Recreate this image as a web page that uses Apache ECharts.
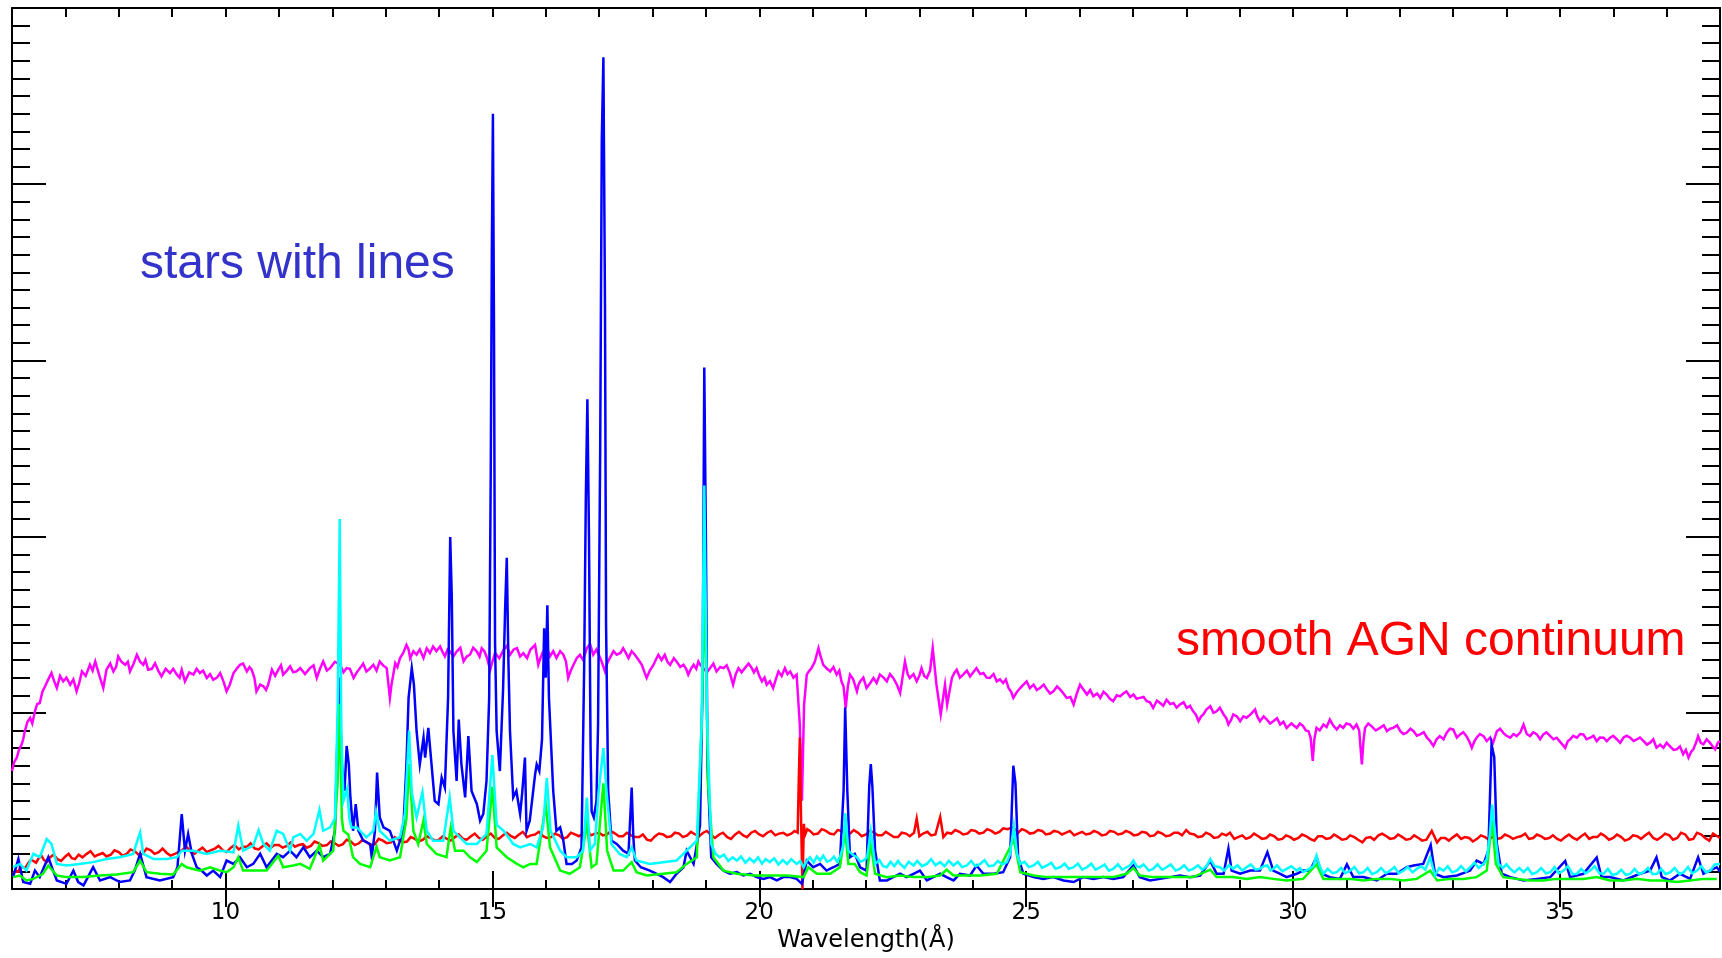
<!DOCTYPE html>
<html>
<head>
<meta charset="utf-8">
<title>X-ray spectra: stars vs AGN</title>
<script src="https://cdn.jsdelivr.net/npm/echarts@6/dist/echarts.min.js"></script>
<style>
  html, body { margin: 0; padding: 0; background: #fff; }
  #chart { width: 1722px; height: 958px; }
</style>
</head>
<body>
<div id="chart"></div>
<script>
// Wavelength axis (Angstrom) and labelled major ticks
const xRange = [6, 38];
const xMajorTicks = [10, 15, 20, 25, 30, 35];
const yRange = [0, 50];

// AGN spectrum (magenta): [wavelength, flux]
const agnSpectrum = [
  [6.00,6.70],[6.04,7.2],[6.09,7.46],[6.13,7.9],[6.18,8.21],[6.21,8.5],[6.24,8.96],[6.29,9.5],[6.34,9.72],[6.38,9.4],
  [6.43,10.09],[6.47,10.5],[6.52,10.56],[6.57,11.2],[6.62,11.51],[6.68,11.9],[6.74,12.26],[6.79,11.8],[6.84,11.41],
  [6.9,12.1],[6.96,11.79],[7.02,12.0],[7.09,11.60],[7.15,11.9],[7.21,11.22],[7.26,11.7],[7.31,12.35],[7.38,12.1],
  [7.46,12.73],[7.51,12.4],[7.56,12.92],[7.6,12.5],[7.65,11.98],[7.71,11.41],[7.77,12.45],[7.84,12.8],[7.90,12.35],
  [7.95,12.6],[7.99,13.20],[8.05,12.9],[8.12,12.73],[8.17,12.9],[8.21,12.35],[8.28,12.8],[8.34,13.30],[8.4,12.9],
  [8.46,12.73],[8.5,13.0],[8.55,12.45],[8.62,12.5],[8.68,12.82],[8.74,12.4],[8.80,12.07],[8.88,12.5],[8.96,12.26],
  [9.02,12.5],[9.09,12.17],[9.14,12.0],[9.18,12.45],[9.24,11.79],[9.32,12.3],[9.40,12.17],[9.46,12.5],[9.52,12.26],
  [9.58,12.4],[9.65,11.98],[9.71,12.2],[9.77,11.88],[9.84,12.0],[9.90,12.26],[9.96,11.8],[10.02,11.22],[10.08,11.6],
  [10.15,12.26],[10.21,12.5],[10.27,12.73],[10.33,12.8],[10.40,12.35],[10.45,12.6],[10.49,12.45],[10.54,12.0],
  [10.58,11.22],[10.65,11.6],[10.71,11.51],[10.76,11.3],[10.80,11.60],[10.87,12.45],[10.93,12.1],[10.99,12.45],
  [11.04,12.7],[11.08,12.17],[11.15,12.4],[11.21,12.64],[11.27,12.3],[11.33,12.35],[11.4,12.54],[11.49,12.2],
  [11.58,12.54],[11.65,12.7],[11.71,11.98],[11.77,12.5],[11.83,12.92],[11.9,12.4],[11.96,12.54],[12.05,12.9],
  [12.15,12.73],[12.21,12.3],[12.27,12.54],[12.33,12.5],[12.40,11.98],[12.46,12.3],[12.52,12.54],[12.58,12.8],
  [12.64,12.35],[12.7,12.5],[12.77,12.73],[12.83,12.4],[12.89,12.92],[12.95,12.7],[13.02,12.54],[13.08,10.85],
  [13.11,11.60],[13.18,12.82],[13.22,12.6],[13.27,13.11],[13.33,13.4],[13.39,13.86],[13.43,13.6],[13.46,13.11],
  [13.52,13.5],[13.58,13.30],[13.64,13.6],[13.71,13.11],[13.77,13.67],[13.83,13.4],[13.89,13.77],[13.95,13.5],
  [14.02,13.77],[14.06,13.5],[14.11,13.20],[14.16,13.6],[14.21,13.48],[14.27,13.2],[14.33,13.48],[14.4,13.7],
  [14.46,12.92],[14.52,13.2],[14.58,13.30],[14.64,13.7],[14.71,13.48],[14.76,13.2],[14.80,13.67],[14.85,13.5],
  [14.89,13.20],[14.96,12.45],[15.0,12.9],[15.05,13.39],[15.13,13.1],[15.21,13.58],[15.27,13.8],[15.33,13.30],
  [15.4,13.6],[15.46,13.67],[15.52,13.2],[15.58,13.39],[15.65,13.1],[15.71,13.58],[15.80,13.86],[15.86,12.73],
  [15.9,13.1],[15.95,13.48],[16.02,13.7],[16.08,13.20],[16.14,13.5],[16.20,13.11],[16.27,13.5],[16.33,13.30],
  [16.38,12.9],[16.42,11.98],[16.47,12.4],[16.52,12.73],[16.58,13.1],[16.64,13.30],[16.7,13.0],[16.77,13.67],
  [16.83,13.9],[16.89,13.30],[16.95,13.6],[17.02,13.11],[17.06,12.8],[17.11,12.35],[17.15,12.8],[17.20,13.11],
  [17.27,13.5],[17.33,13.30],[17.4,13.4],[17.45,13.67],[17.5,13.4],[17.55,13.11],[17.61,13.5],[17.67,13.30],
  [17.74,13.0],[17.80,12.73],[17.85,12.3],[17.89,11.98],[17.95,12.4],[18.02,12.73],[18.06,13.0],[18.11,13.30],
  [18.17,13.0],[18.23,13.30],[18.28,12.9],[18.33,12.73],[18.4,13.1],[18.45,12.92],[18.52,12.6],[18.58,12.73],
  [18.63,12.5],[18.67,12.17],[18.72,12.5],[18.77,12.73],[18.82,12.5],[18.86,12.92],[18.9,12.7],[18.95,12.54],
  [19.02,12.3],[19.08,12.54],[19.14,12.8],[19.20,12.35],[19.27,12.6],[19.33,12.54],[19.39,12.7],[19.45,12.26],
  [19.51,11.60],[19.56,12.2],[19.61,12.54],[19.67,12.3],[19.73,12.54],[19.8,12.8],[19.86,12.54],[19.9,12.3],
  [19.95,12.54],[20.0,12.1],[20.05,11.79],[20.1,12.0],[20.14,11.60],[20.2,11.8],[20.26,11.41],[20.31,11.9],
  [20.36,12.35],[20.42,12.1],[20.48,12.54],[20.53,12.2],[20.58,12.35],[20.64,12.0],[20.70,12.17],[20.76,9.34],
  [20.80,5.01],[20.84,10.47],[20.89,12.17],[20.94,12.4],[20.98,12.54],[21.04,12.9],[21.11,13.67],[21.15,13.2],
  [21.20,12.73],[21.27,12.5],[21.33,12.35],[21.39,12.6],[21.45,12.17],[21.5,12.4],[21.54,11.79],[21.58,11.5],
  [21.62,10.28],[21.66,11.5],[21.70,12.17],[21.76,11.9],[21.83,11.22],[21.86,11.6],[21.89,11.79],[21.95,12.0],
  [22.01,11.41],[22.08,11.7],[22.14,11.98],[22.2,11.7],[22.26,12.17],[22.33,12.0],[22.39,11.79],[22.45,12.2],
  [22.51,11.98],[22.58,11.6],[22.64,11.13],[22.73,12.92],[22.78,12.2],[22.82,11.98],[22.89,12.2],[22.95,11.79],
  [23.0,12.1],[23.04,12.54],[23.09,12.1],[23.14,11.98],[23.2,12.4],[23.25,13.67],[23.32,11.60],[23.40,9.91],
  [23.48,11.60],[23.52,10.47],[23.61,11.98],[23.66,12.3],[23.70,12.45],[23.76,12.0],[23.82,12.17],[23.89,12.4],
  [23.95,12.07],[24.01,12.3],[24.07,12.54],[24.14,12.2],[24.20,12.26],[24.26,12.0],[24.32,11.98],[24.39,12.2],
  [24.45,11.79],[24.51,11.9],[24.57,11.69],[24.62,11.9],[24.67,11.41],[24.72,11.2],[24.76,10.85],[24.83,11.2],
  [24.89,11.41],[24.95,11.6],[25.01,11.79],[25.07,11.4],[25.14,11.60],[25.2,11.3],[25.26,11.41],[25.33,11.6],
  [25.39,11.32],[25.45,11.1],[25.51,11.22],[25.58,11.5],[25.64,11.32],[25.7,11.1],[25.76,10.85],[25.83,10.9],
  [25.89,10.47],[25.95,11.1],[26.01,11.60],[26.08,11.3],[26.14,11.04],[26.2,11.3],[26.26,10.94],[26.33,11.1],
  [26.39,10.85],[26.45,11.2],[26.51,11.04],[26.57,10.8],[26.63,10.66],[26.7,11.0],[26.76,10.94],[26.82,11.1],
  [26.88,11.22],[26.95,10.9],[27.01,11.04],[27.07,10.8],[27.13,10.85],[27.2,10.9],[27.26,10.66],[27.32,10.6],
  [27.38,10.28],[27.45,10.7],[27.51,10.56],[27.57,10.4],[27.63,10.75],[27.7,10.5],[27.76,10.56],[27.82,10.3],
  [27.88,10.47],[27.95,10.6],[28.01,10.28],[28.07,10.4],[28.13,10.09],[28.18,9.9],[28.23,9.53],[28.28,9.8],
  [28.32,9.91],[28.38,10.2],[28.45,10.38],[28.51,10.0],[28.57,10.09],[28.63,10.3],[28.70,9.91],[28.75,9.7],
  [28.79,9.34],[28.84,9.6],[28.88,9.91],[28.95,9.8],[29.01,9.53],[29.07,9.8],[29.13,9.72],[29.2,9.9],
  [29.29,10.19],[29.33,9.8],[29.38,9.53],[29.45,9.8],[29.51,9.62],[29.57,9.4],[29.63,9.53],[29.7,9.7],
  [29.76,9.34],[29.82,9.5],[29.88,9.15],[29.97,9.4],[30.07,9.15],[30.13,9.4],[30.19,9.25],[30.24,9.0],
  [30.29,8.96],[30.33,8.6],[30.37,7.27],[30.4,8.5],[30.44,9.15],[30.5,9.0],[30.57,9.34],[30.63,9.2],
  [30.69,9.62],[30.75,9.3],[30.82,9.06],[30.88,9.3],[30.94,9.15],[31.0,9.4],[31.07,9.34],[31.13,9.1],
  [31.19,9.34],[31.24,9.0],[31.29,7.08],[31.32,8.4],[31.35,9.15],[31.41,9.4],[31.47,9.25],[31.55,9.0],
  [31.63,9.15],[31.7,9.3],[31.76,8.96],[31.82,9.1],[31.88,9.15],[31.95,9.3],[32.01,8.96],[32.07,8.8],
  [32.13,8.87],[32.2,9.1],[32.26,8.96],[32.32,8.7],[32.38,8.78],[32.45,8.9],[32.51,8.59],[32.57,8.4],
  [32.63,8.12],[32.69,8.5],[32.75,8.68],[32.82,8.5],[32.88,8.87],[32.94,9.1],[33.00,9.06],[33.07,8.6],
  [33.13,8.78],[33.19,8.9],[33.25,8.68],[33.3,8.4],[33.35,8.02],[33.4,8.4],[33.44,8.59],[33.5,8.8],
  [33.57,8.68],[33.63,8.4],[33.69,8.59],[33.75,8.31],[33.82,8.96],[33.88,9.1],[33.94,8.87],[34.0,8.7],
  [34.07,8.59],[34.13,8.8],[34.19,8.68],[34.26,8.9],[34.32,9.34],[34.38,8.8],[34.44,8.68],[34.5,8.9],
  [34.57,8.78],[34.63,8.5],[34.69,8.78],[34.75,8.9],[34.82,8.68],[34.88,8.5],[34.94,8.59],[35.02,8.3],
  [35.10,8.02],[35.15,8.4],[35.19,8.49],[35.25,8.7],[35.32,8.59],[35.38,8.8],[35.44,8.78],[35.5,8.5],
  [35.57,8.59],[35.63,8.7],[35.69,8.40],[35.75,8.6],[35.82,8.59],[35.88,8.4],[35.94,8.59],[36.0,8.7],
  [36.07,8.49],[36.13,8.3],[36.19,8.59],[36.25,8.7],[36.32,8.59],[36.38,8.4],[36.44,8.49],[36.5,8.6],
  [36.57,8.40],[36.63,8.2],[36.69,8.31],[36.75,8.5],[36.81,8.02],[36.88,8.2],[36.94,8.02],[37.0,8.3],
  [37.06,8.12],[37.13,7.9],[37.19,7.93],[37.25,8.1],[37.31,7.65],[37.36,7.9],[37.41,7.46],[37.46,7.8],
  [37.50,7.93],[37.55,8.3],[37.59,8.68],[37.64,8.3],[37.69,8.21],[37.75,8.5],[37.81,8.31],[37.86,8.1],
  [37.91,7.93],[37.96,8.3],[38.00,8.40]
];

// Smooth AGN continuum (red)
const agnContinuum = [
  [6.02,0.87],[6.07,1.05],[6.12,1.00],[6.16,1.3],[6.20,1.25],[6.25,1.2],[6.30,1.45],[6.35,1.65],[6.40,1.60],[6.45,1.5],
  [6.50,1.75],[6.55,1.9],[6.60,1.65],[6.66,1.55],[6.71,1.80],[6.78,1.95],[6.85,1.70],[6.92,1.6],[7.00,1.85],[7.06,2.0],
  [7.12,1.75],[7.18,1.7],[7.25,1.95],[7.32,1.8],[7.40,2.00],[7.47,2.15],[7.55,1.85],[7.62,1.95],[7.70,2.05],[7.77,1.85],
  [7.85,1.95],[7.92,2.2],[8.00,2.10],[8.07,1.9],[8.15,2.00],[8.22,2.25],[8.30,2.15],[8.37,1.95],[8.45,2.00],[8.52,2.3],
  [8.60,2.20],[8.67,2.0],[8.75,2.10],[8.82,2.3],[8.90,2.05],[8.97,1.9],[9.05,2.00],[9.12,2.1],[9.20,2.25],[9.27,2.4],
  [9.35,2.10],[9.42,2.0],[9.50,2.20],[9.57,2.35],[9.65,2.10],[9.72,2.2],[9.80,2.30],[9.87,2.45],[9.95,2.20],[10.02,2.1],
  [10.10,2.35],[10.17,2.5],[10.25,2.25],[10.32,2.4],[10.40,2.40],[10.47,2.6],[10.55,2.30],[10.62,2.25],[10.70,2.45],
  [10.77,2.6],[10.85,2.35],[10.92,2.5],[11.00,2.50],[11.07,2.35],[11.15,2.45],[11.22,2.65],[11.30,2.40],[11.37,2.5],
  [11.45,2.55],[11.52,2.35],[11.60,2.45],[11.67,2.7],[11.75,2.60],[11.82,2.45],[11.90,2.50],[11.97,2.7],[12.05,2.60],
  [12.12,2.45],[12.20,2.55],[12.27,2.8],[12.35,2.70],[12.42,2.5],[12.50,2.60],[12.57,2.8],[12.65,2.65],[12.72,2.5],
  [12.80,2.55],[12.87,2.85],[12.95,2.75],[13.02,2.6],[13.10,2.65],[13.17,2.95],[13.25,2.80],[13.32,2.65],[13.40,2.70],
  [13.47,2.95],[13.55,2.85],[13.62,2.7],[13.70,2.80],[13.77,3.0],[13.85,2.90],[13.92,2.75],[14.00,2.80],[14.07,3.0],
  [14.15,2.85],[14.22,2.75],[14.30,2.95],[14.37,3.1],[14.45,2.85],[14.52,2.8],[14.60,3.00],[14.67,3.15],[14.75,2.90],
  [14.82,2.8],[14.90,3.00],[14.97,3.15],[15.05,2.90],[15.12,2.85],[15.20,3.05],[15.27,3.2],[15.35,3.00],[15.42,2.9],
  [15.50,3.10],[15.57,3.25],[15.65,2.95],[15.72,3.05],[15.80,3.10],[15.87,3.25],[15.95,3.00],[16.02,2.9],[16.10,2.95],
  [16.17,3.15],[16.25,3.05],[16.32,2.85],[16.40,2.95],[16.47,3.2],[16.55,3.10],[16.62,3.0],[16.70,3.15],[16.77,3.3],
  [16.85,3.05],[16.92,3.15],[17.00,3.20],[17.07,3.05],[17.15,3.10],[17.22,3.3],[17.30,3.15],[17.37,3.0],[17.45,3.00],
  [17.52,3.2],[17.60,3.05],[17.67,2.95],[17.75,2.95],[17.82,3.1],[17.90,2.80],[17.97,2.75],[18.05,3.00],[18.12,3.15],
  [18.20,3.10],[18.27,2.95],[18.35,3.00],[18.42,3.2],[18.50,3.15],[18.57,2.95],[18.65,3.05],[18.72,3.25],[18.80,3.10],
  [18.87,3.0],[18.95,3.20],[19.02,3.3],[19.10,3.05],[19.17,2.9],[19.25,3.10],[19.32,3.2],[19.40,2.95],[19.47,2.85],
  [19.55,3.10],[19.62,3.25],[19.70,3.05],[19.77,2.95],[19.85,3.20],[19.92,3.3],[20.00,3.10],[20.07,3.0],[20.15,3.20],
  [20.22,3.3],[20.30,3.05],[20.37,3.15],[20.45,3.20],[20.52,3.05],[20.60,3.15],[20.66,3.3],[20.72,3.20],[20.74,6.10],
  [20.76,8.60],[20.785,3.70],[20.81,0.00],[20.835,3.70],[20.86,3.10],[20.90,3.4],[20.95,3.30],[21.02,3.1],[21.10,3.15],
  [21.17,3.4],[21.25,3.30],[21.32,3.15],[21.40,3.10],[21.47,3.35],[21.55,3.30],[21.62,3.1],[21.70,3.15],[21.77,3.35],
  [21.85,3.20],[21.92,3.0],[22.00,3.10],[22.07,3.3],[22.15,3.20],[22.22,3.05],[22.30,3.05],[22.37,3.25],[22.45,3.10],
  [22.52,2.95],[22.60,2.95],[22.67,3.2],[22.75,3.15],[22.82,3.0],[22.90,3.20],[22.95,4.00],[23.00,3.00],[23.07,3.15],
  [23.15,3.25],[23.22,3.05],[23.30,3.10],[23.39,4.10],[23.45,2.95],[23.52,3.2],[23.60,3.15],[23.67,3.35],[23.75,3.25],
  [23.82,3.1],[23.90,3.15],[23.97,3.35],[24.05,3.30],[24.12,3.15],[24.20,3.20],[24.27,3.4],[24.35,3.30],[24.42,3.15],
  [24.50,3.25],[24.57,3.45],[24.65,3.40],[24.75,3.50],[24.85,3.20],[24.92,3.4],[25.00,3.30],[25.07,3.15],[25.15,3.20],
  [25.22,3.35],[25.30,3.30],[25.37,3.1],[25.45,3.15],[25.52,3.3],[25.60,3.25],[25.67,3.1],[25.75,3.20],[25.82,3.3],
  [25.90,3.05],[25.97,3.15],[26.05,3.25],[26.12,3.1],[26.20,3.15],[26.27,3.3],[26.35,3.20],[26.42,3.05],[26.50,3.10],
  [26.57,3.3],[26.65,3.25],[26.72,3.1],[26.80,3.15],[26.87,3.3],[26.95,3.20],[27.02,3.05],[27.10,3.10],[27.17,3.25],
  [27.25,3.20],[27.32,3.0],[27.40,3.05],[27.47,3.25],[27.55,3.15],[27.62,3.0],[27.70,3.05],[27.77,3.2],[27.85,3.20],
  [27.92,3.05],[28.00,3.35],[28.07,3.15],[28.15,3.10],[28.22,2.95],[28.30,3.00],[28.37,3.2],[28.45,3.10],[28.52,2.9],
  [28.60,2.95],[28.67,3.15],[28.75,3.05],[28.82,3.2],[28.90,2.85],[28.97,2.95],[29.05,3.05],[29.12,2.85],[29.20,2.95],
  [29.27,3.15],[29.35,3.00],[29.42,2.85],[29.50,2.90],[29.57,3.1],[29.65,3.00],[29.72,2.8],[29.80,2.85],[29.87,3.05],
  [29.95,2.95],[30.02,2.8],[30.10,2.90],[30.17,3.1],[30.25,3.00],[30.32,2.85],[30.40,2.75],[30.47,3.0],[30.55,3.00],
  [30.62,2.85],[30.70,2.90],[30.77,3.1],[30.85,2.95],[30.92,2.8],[31.00,2.85],[31.07,3.05],[31.15,2.95],[31.22,2.8],
  [31.30,2.65],[31.37,2.9],[31.45,2.95],[31.52,2.8],[31.60,3.05],[31.67,3.15],[31.75,3.00],[31.82,2.85],[31.90,2.90],
  [31.97,3.1],[32.05,2.95],[32.12,2.8],[32.20,2.85],[32.27,3.05],[32.35,2.90],[32.42,2.75],[32.50,2.80],[32.60,3.30],
  [32.70,2.65],[32.77,2.9],[32.85,2.90],[32.92,2.75],[33.00,2.95],[33.07,3.1],[33.15,2.85],[33.22,2.95],[33.30,2.90],
  [33.37,2.7],[33.45,2.85],[33.52,3.05],[33.60,2.95],[33.67,2.8],[33.75,3.00],[33.82,2.85],[33.90,2.90],[33.97,3.1],
  [34.05,3.00],[34.12,2.85],[34.20,2.95],[34.27,3.0],[34.35,3.15],[34.42,2.85],[34.50,2.90],[34.57,3.1],[34.65,3.00],
  [34.72,2.85],[34.80,2.90],[34.87,3.05],[34.95,2.85],[35.02,2.75],[35.10,2.95],[35.17,3.1],[35.25,2.90],[35.32,2.8],
  [35.40,3.00],[35.47,3.15],[35.55,2.85],[35.62,2.95],[35.70,2.95],[35.77,3.15],[35.85,3.00],[35.92,2.8],[36.00,2.90],
  [36.07,3.1],[36.15,2.95],[36.22,2.75],[36.30,2.85],[36.37,3.05],[36.45,3.00],[36.52,2.85],[36.60,3.05],[36.67,3.2],
  [36.75,2.90],[36.82,2.8],[36.90,2.95],[36.97,3.15],[37.05,3.05],[37.12,2.8],[37.20,2.90],[37.27,3.2],[37.35,3.10],
  [37.42,2.8],[37.50,2.85],[37.57,3.2],[37.65,3.10],[37.72,2.9],[37.80,2.75],[37.87,3.15],[37.95,3.00],[38.00,2.9]
];

// Stellar coronal spectrum with strong emission lines (blue)
const starLines = [
  [6.02,0.68],[6.12,1.71],[6.21,0.40],[6.34,0.30],[6.43,1.05],[6.52,0.68],[6.68,1.81],[6.77,1.05],[6.84,0.49],
  [7.02,0.30],[7.15,1.05],[7.24,0.40],[7.34,0.21],[7.52,1.24],[7.65,0.49],[7.84,0.68],[8.02,0.40],[8.21,0.49],
  [8.30,1.05],[8.40,2.00],[8.52,0.68],[8.77,0.49],[9.02,0.68],[9.10,1.24],[9.18,4.26],[9.24,2.18],[9.30,3.13],
  [9.37,2.00],[9.46,1.24],[9.55,1.05],[9.65,0.77],[9.77,1.05],[9.90,0.68],[10.02,1.62],[10.15,1.43],[10.27,1.81],
  [10.40,1.24],[10.52,1.43],[10.65,2.00],[10.77,1.24],[10.96,2.00],[11.08,1.81],[11.21,2.18],[11.33,1.81],[11.46,2.37],
  [11.58,1.81],[11.71,2.18],[11.83,1.81],[11.96,2.00],[12.05,3.31],[12.10,8.96],[12.13,12.00],[12.18,7.08],[12.23,5.57],
  [12.27,8.12],[12.31,7.08],[12.34,5.20],[12.39,3.31],[12.44,4.82],[12.49,3.31],[12.58,2.75],[12.71,2.56],[12.74,1.81],
  [12.80,3.31],[12.84,6.61],[12.89,4.07],[12.96,3.50],[13.08,3.31],[13.21,2.18],[13.33,3.31],[13.39,7.08],[13.43,10.85],
  [13.49,12.54],[13.53,11.60],[13.58,8.96],[13.64,7.08],[13.71,8.59],[13.74,7.46],[13.80,9.15],[13.86,7.08],[13.92,5.01],
  [13.99,4.82],[14.05,6.33],[14.11,5.76],[14.17,10.85],[14.21,19.98],[14.24,16.50],[14.27,8.96],[14.33,6.14],[14.37,9.62],
  [14.42,7.08],[14.49,5.20],[14.55,8.68],[14.61,5.57],[14.71,4.82],[14.77,3.88],[14.83,4.26],[14.89,6.14],[14.94,10.85],
  [14.97,24.00],[14.99,36.00],[15.01,44.00],[15.03,32.00],[15.05,14.00],[15.08,8.96],[15.14,6.70],[15.20,11.30],
  [15.24,16.00],[15.27,18.80],[15.30,13.00],[15.33,8.96],[15.39,5.20],[15.45,5.57],[15.52,4.26],[15.56,5.50],[15.61,7.46],
  [15.64,3.31],[15.70,3.88],[15.80,6.50],[15.83,7.08],[15.88,6.70],[15.93,8.50],[15.97,14.80],[16.00,12.00],[16.03,16.10],
  [16.06,10.85],[16.14,5.57],[16.20,3.31],[16.27,3.50],[16.33,2.75],[16.39,1.43],[16.49,1.43],[16.58,1.62],[16.67,2.37],
  [16.72,12.70],[16.75,22.00],[16.78,27.80],[16.81,20.00],[16.84,8.00],[16.86,4.40],[16.90,4.07],[16.95,5.00],[16.98,9.34],
  [17.02,25.00],[17.05,42.50],[17.08,47.20],[17.11,33.00],[17.13,15.00],[17.17,5.57],[17.23,2.75],[17.33,2.56],[17.45,2.18],
  [17.55,2.00],[17.61,5.76],[17.64,3.00],[17.67,1.62],[17.78,1.24],[17.95,1.05],[18.08,0.87],[18.20,0.68],[18.33,0.40],
  [18.45,0.87],[18.58,1.24],[18.64,2.18],[18.77,1.43],[18.89,3.60],[18.94,12.00],[18.97,29.60],[19.00,20.00],[19.03,7.00],
  [19.10,1.81],[19.20,1.43],[19.33,1.05],[19.45,0.87],[19.58,0.96],[19.70,0.77],[19.83,0.87],[19.95,0.68],[20.08,0.58],
  [20.20,0.68],[20.33,0.49],[20.45,0.68],[20.58,0.68],[20.70,0.58],[20.80,0.30],[20.89,1.62],[21.01,1.24],[21.14,1.43],
  [21.26,1.05],[21.39,1.24],[21.51,1.43],[21.58,5.57],[21.61,10.30],[21.65,5.57],[21.70,1.81],[21.79,2.00],[21.89,1.24],
  [22.01,1.05],[22.06,5.80],[22.09,7.10],[22.12,5.80],[22.17,2.20],[22.26,0.49],[22.39,0.49],[22.51,0.68],[22.64,0.87],
  [22.76,0.68],[22.89,0.87],[23.01,1.05],[23.14,0.49],[23.26,0.68],[23.39,0.87],[23.51,0.68],[23.64,0.49],[23.76,0.87],
  [23.95,0.77],[24.07,1.34],[24.20,0.87],[24.39,0.87],[24.57,0.96],[24.70,1.81],[24.76,7.00],[24.80,6.00],[24.85,1.81],
  [24.95,0.87],[25.14,0.68],[25.32,0.58],[25.51,0.68],[25.70,0.49],[25.89,0.40],[26.07,0.68],[26.26,0.58],[26.45,0.68],
  [26.63,0.58],[26.82,0.68],[27.01,1.34],[27.13,0.68],[27.32,0.49],[27.51,0.58],[27.70,0.68],[27.88,0.77],[28.07,0.68],
  [28.26,0.77],[28.45,1.60],[28.57,0.87],[28.70,0.87],[28.79,2.30],[28.85,1.05],[29.01,0.87],[29.20,1.05],[29.38,1.05],
  [29.52,2.10],[29.63,1.05],[29.76,0.87],[29.88,0.68],[30.07,0.87],[30.19,1.05],[30.32,1.05],[30.44,1.81],[30.54,0.87],
  [30.69,0.68],[30.88,0.58],[31.01,1.40],[31.13,0.68],[31.32,0.68],[31.57,0.49],[31.76,0.87],[31.94,0.87],[32.13,1.24],
  [32.26,1.34],[32.44,1.43],[32.58,2.50],[32.66,0.87],[32.82,0.68],[33.07,0.77],[33.32,1.05],[33.44,1.62],[33.57,1.43],
  [33.66,2.18],[33.72,8.20],[33.77,7.50],[33.82,2.56],[33.91,0.87],[34.07,0.68],[34.32,0.49],[34.57,0.58],[34.82,0.68],
  [35.10,1.60],[35.19,0.68],[35.44,0.87],[35.69,1.80],[35.78,0.68],[35.94,0.68],[36.19,0.49],[36.50,0.87],[36.69,1.05],
  [36.81,1.80],[36.91,0.68],[37.06,0.49],[37.25,0.87],[37.44,0.58],[37.59,1.80],[37.69,0.87],[37.81,1.05],[37.94,1.24],
  [38.00,1.00]
];

// Second stellar spectrum (cyan)
const starCyan = [
  [6.02,1.24],[6.15,1.43],[6.27,1.05],[6.40,2.00],[6.52,1.81],[6.65,2.84],[6.74,2.56],[6.84,1.43],[7.02,1.34],
  [7.27,1.43],[7.52,1.53],[7.77,1.71],[8.02,1.81],[8.27,2.00],[8.40,3.22],[8.46,2.00],[8.65,1.71],[8.90,1.71],
  [9.09,1.81],[9.18,2.18],[9.40,2.18],[9.65,2.00],[9.90,2.18],[10.15,2.09],[10.24,3.60],[10.33,2.18],[10.52,2.47],
  [10.62,3.35],[10.71,2.56],[10.83,2.18],[10.96,3.31],[11.08,3.13],[11.21,2.18],[11.27,2.94],[11.40,3.13],[11.52,2.75],
  [11.65,3.13],[11.76,4.50],[11.83,3.31],[11.96,3.50],[12.05,4.00],[12.10,10.00],[12.14,21.00],[12.17,9.00],[12.21,5.00],
  [12.28,5.70],[12.32,4.00],[12.36,3.50],[12.46,3.50],[12.64,2.94],[12.77,3.31],[12.82,4.40],[12.89,3.31],[13.08,2.75],
  [13.27,2.94],[13.36,4.26],[13.44,9.00],[13.49,5.50],[13.58,4.07],[13.69,5.50],[13.77,3.31],[13.89,2.75],[14.08,2.75],
  [14.20,5.20],[14.27,3.31],[14.39,2.94],[14.52,2.56],[14.71,2.56],[14.89,3.13],[15.00,7.60],[15.08,3.65],[15.21,3.31],
  [15.30,2.94],[15.39,2.56],[15.52,2.37],[15.71,2.56],[15.83,2.37],[15.95,3.50],[16.02,6.30],[16.09,3.31],[16.27,2.18],
  [16.39,1.81],[16.58,1.81],[16.70,2.18],[16.77,5.20],[16.83,2.20],[16.92,2.56],[16.99,5.50],[17.08,8.00],[17.14,5.50],
  [17.23,2.56],[17.39,1.98],[17.52,1.81],[17.61,2.37],[17.70,1.62],[17.95,1.43],[18.20,1.53],[18.45,1.62],[18.64,2.18],
  [18.83,2.75],[18.92,9.30],[18.97,22.90],[19.02,10.00],
  [19.10,2.56],[19.18,2.0],[19.26,1.81],[19.34,1.95],[19.42,1.6],[19.5,1.8],[19.58,1.62],[19.66,1.85],[19.74,1.5],
  [19.82,1.75],[19.90,1.53],[19.98,1.8],[20.05,1.45],[20.12,1.7],[20.20,1.53],[20.28,1.75],[20.36,1.4],[20.44,1.65],
  [20.52,1.43],[20.6,1.7],[20.70,1.43],[20.77,1.6],[20.83,1.24],[20.89,1.6],[20.95,1.81],[21.02,1.5],[21.08,1.85],
  [21.14,1.62],[21.2,1.9],[21.27,1.55],[21.33,1.62],[21.4,1.85],[21.46,1.55],[21.51,1.81],[21.57,2.4],[21.61,4.30],
  [21.67,2.18],[21.75,1.95],[21.83,1.81],[21.89,1.55],[21.95,1.62],[22.02,1.8],[22.09,3.30],[22.17,1.43],[22.25,1.65],
  [22.32,1.3],[22.39,1.24],[22.46,1.55],[22.53,1.3],[22.6,1.6],[22.64,1.43],[22.72,1.2],[22.8,1.55],[22.89,1.34],
  [22.96,1.6],[23.05,1.3],[23.14,1.43],[23.22,1.7],[23.3,1.35],[23.39,1.53],[23.47,1.3],[23.55,1.6],[23.64,1.34],
  [23.72,1.55],[23.8,1.25],[23.89,1.34],[23.97,1.6],[24.05,1.3],[24.14,1.43],[24.22,1.65],[24.3,1.3],[24.39,1.34],
  [24.47,1.6],[24.55,1.4],[24.64,1.53],[24.7,2.0],[24.77,3.60],[24.83,2.0],[24.89,1.43],[24.97,1.55],[25.05,1.25],
  [25.14,1.34],[25.22,1.55],[25.3,1.2],[25.39,1.34],[25.47,1.5],[25.55,1.15],[25.64,1.24],[25.72,1.45],[25.8,1.15],
  [25.89,1.24],[25.97,1.45],[26.05,1.1],[26.14,1.24],[26.22,1.45],[26.3,1.1],[26.39,1.24],[26.47,1.4],[26.55,1.05],
  [26.63,1.15],[26.72,1.4],[26.8,1.1],[26.88,1.24],[26.95,1.35],[27.01,1.62],[27.07,1.3],[27.13,1.24],[27.2,1.4],
  [27.3,1.05],[27.38,1.15],[27.46,1.4],[27.55,1.1],[27.63,1.24],[27.71,1.4],[27.8,1.05],[27.88,1.15],[27.96,1.35],
  [28.05,1.05],[28.13,1.15],[28.22,1.35],[28.3,1.1],[28.38,1.3],[28.45,1.70],[28.53,1.3],[28.63,1.24],[28.71,1.05],
  [28.8,1.35],[28.88,1.15],[28.96,1.35],[29.05,1.05],[29.13,1.24],[29.21,1.4],[29.3,1.1],[29.38,1.15],[29.45,1.3],
  [29.52,1.34],[29.58,1.05],[29.63,1.15],[29.7,1.35],[29.8,1.0],[29.88,1.15],[29.97,1.3],[30.07,1.05],[30.13,1.2],
  [30.19,0.96],[30.3,1.15],[30.38,1.3],[30.44,1.90],[30.5,1.3],[30.57,0.87],[30.65,1.15],[30.74,0.9],[30.82,0.96],
  [30.9,1.2],[30.98,0.9],[31.07,1.05],[31.15,1.25],[31.24,0.9],[31.32,0.96],[31.4,1.2],[31.48,0.85],[31.57,0.96],
  [31.65,1.2],[31.74,0.9],[31.82,1.05],[31.9,1.25],[31.98,0.9],[32.07,1.05],[32.15,1.25],[32.24,0.95],[32.32,1.15],
  [32.4,1.3],[32.48,1.1],[32.57,1.80],[32.66,0.77],[32.74,1.2],[32.82,1.05],[32.9,1.3],[32.98,0.95],[33.07,1.05],
  [33.15,1.3],[33.24,1.0],[33.32,1.24],[33.4,1.5],[33.48,1.2],[33.57,1.43],[33.63,1.7],[33.69,3.15],[33.73,4.80],
  [33.77,3.65],[33.85,1.43],[33.93,1.2],[34.0,1.4],[34.07,1.15],[34.15,0.95],[34.24,1.2],[34.32,0.96],[34.4,1.2],
  [34.48,0.85],[34.57,0.96],[34.65,1.2],[34.74,0.9],[34.82,0.96],[34.9,1.25],[34.98,0.9],[35.07,1.05],[35.15,1.3],
  [35.24,0.85],[35.32,0.87],[35.4,1.15],[35.48,0.9],[35.57,1.05],[35.65,1.3],[35.74,0.9],[35.82,0.87],[35.9,1.15],
  [35.98,0.8],[36.07,0.87],[36.15,1.1],[36.24,0.8],[36.32,0.87],[36.4,1.15],[36.48,0.85],[36.57,0.96],[36.65,1.2],
  [36.74,0.85],[36.82,0.87],[36.9,1.15],[36.98,0.85],[37.07,0.96],[37.15,1.2],[37.24,0.85],[37.32,0.96],[37.4,1.25],
  [37.48,0.9],[37.57,1.05],[37.65,1.3],[37.74,0.95],[37.82,1.05],[37.9,1.4],[38.00,1.43]
];

// Third stellar spectrum (green)
const starGreen = [
  [6.02,0.68],[6.15,0.77],[6.27,0.49],[6.40,0.58],[6.58,0.87],[6.68,1.34],[6.84,0.77],[7.02,0.68],[7.34,0.68],
  [7.65,0.77],[7.96,0.83],[8.27,0.96],[8.40,1.62],[8.52,0.96],[8.77,0.87],[9.02,0.83],[9.18,1.43],[9.27,1.24],
  [9.52,1.05],[9.71,1.24],[9.90,1.05],[10.02,0.96],[10.15,1.24],[10.24,1.81],[10.33,1.05],[10.58,1.05],[10.77,1.05],
  [10.99,1.90],[11.08,1.24],[11.27,1.34],[11.40,1.43],[11.58,1.15],[11.76,2.50],[11.83,1.62],[12.02,2.18],[12.10,6.00],
  [12.14,10.50],[12.18,4.00],[12.21,3.31],[12.30,3.10],[12.39,1.81],[12.52,1.43],[12.71,1.24],[12.83,2.40],[12.89,1.81],
  [13.08,1.62],[13.27,1.81],[13.39,4.00],[13.44,7.10],[13.52,3.31],[13.61,2.56],[13.71,3.90],[13.77,2.56],[13.95,2.00],
  [14.14,1.81],[14.22,3.50],[14.30,2.18],[14.46,2.18],[14.58,1.81],[14.71,1.53],[14.89,2.18],[15.00,5.80],[15.08,2.37],
  [15.27,1.81],[15.46,1.43],[15.58,1.24],[15.71,1.43],[15.83,1.43],[16.00,4.80],[16.08,2.37],[16.27,1.05],[16.45,0.87],
  [16.64,1.24],[16.77,3.70],[16.86,1.24],[16.95,1.43],[17.08,6.00],[17.15,2.18],[17.27,1.05],[17.45,1.05],[17.61,1.53],
  [17.70,0.96],[17.89,0.77],[18.20,0.87],[18.45,0.96],[18.64,1.43],[18.83,1.81],[18.92,9.30],[18.98,17.30],[19.04,6.00],
  [19.14,1.81],[19.33,1.05],[19.58,0.87],[19.90,0.77],[20.20,0.77],[20.52,0.77],[20.83,0.68],[20.92,1.24],[21.08,0.87],
  [21.33,0.87],[21.51,1.24],[21.61,3.30],[21.67,1.43],[21.79,1.43],[21.89,0.96],[22.01,0.77],[22.09,2.60],[22.17,0.87],
  [22.39,0.68],[22.64,0.77],[22.89,0.68],[23.14,0.68],[23.39,0.77],[23.51,1.10],[23.64,0.77],[23.89,0.77],[24.14,0.77],
  [24.45,0.87],[24.77,2.80],[24.89,0.96],[25.14,0.77],[25.39,0.68],[25.64,0.68],[25.89,0.68],[26.14,0.68],[26.39,0.68],
  [26.63,0.68],[26.88,0.87],[27.01,1.20],[27.13,0.77],[27.38,0.68],[27.63,0.68],[27.88,0.68],[28.13,0.68],[28.45,1.10],
  [28.57,0.68],[28.88,0.68],[29.13,0.58],[29.38,0.68],[29.63,0.58],[29.88,0.49],[30.19,0.58],[30.44,1.40],[30.57,0.58],
  [30.82,0.58],[31.07,0.58],[31.32,0.49],[31.57,0.58],[31.82,0.58],[32.07,0.49],[32.32,0.58],[32.57,1.05],[32.70,0.49],
  [32.94,0.58],[33.19,0.58],[33.44,0.68],[33.63,1.05],[33.73,3.90],[33.80,1.43],[33.94,0.68],[34.19,0.58],[34.44,0.49],
  [34.69,0.49],[34.94,0.58],[35.19,0.58],[35.44,0.58],[35.69,0.68],[35.94,0.49],[36.19,0.49],[36.44,0.58],[36.69,0.49],
  [36.94,0.49],[37.19,0.40],[37.44,0.49],[37.69,0.58],[37.94,0.58]
];

const chart = echarts.init(document.getElementById('chart'), null, { renderer: 'canvas' });

const axisColor = '#000';
const tickFont = { fontFamily: 'DejaVu Sans', fontSize: 23, color: '#000' };

// Minor ticks every 1 A, longer ticks at the labelled values, mirrored on top
function xAxisPair(position, withLabels) {
  return [
    {
      type: 'value', position, min: xRange[0], max: xRange[1], interval: 1,
      axisLine: { show: true, onZero: false, lineStyle: { color: axisColor, width: 2 } },
      axisTick: { show: true, inside: true, length: 9, lineStyle: { color: axisColor, width: 2 } },
      axisLabel: withLabels
        ? Object.assign({ show: true, margin: 12, customValues: xMajorTicks }, tickFont)
        : { show: false },
      splitLine: { show: false },
      name: withLabels ? 'Wavelength(Å)' : '',
      nameLocation: 'middle', nameGap: 37,
      nameTextStyle: { fontFamily: 'DejaVu Sans', fontSize: 24, color: '#000' }
    },
    {
      type: 'value', position, min: xRange[0], max: xRange[1],
      axisLine: { show: false },
      axisTick: { show: true, inside: true, length: 18, customValues: xMajorTicks,
                  lineStyle: { color: axisColor, width: 2 } },
      axisLabel: { show: false },
      splitLine: { show: false }
    }
  ];
}

function yAxisFor(position) {
  return {
    type: 'value', position, min: yRange[0], max: yRange[1], interval: 10,
    axisLine: { show: true, onZero: false, lineStyle: { color: axisColor, width: 2 } },
    axisTick: { show: true, inside: true, length: 34, lineStyle: { color: axisColor, width: 2 } },
    minorTick: { show: true, splitNumber: 10, length: 18, lineStyle: { color: axisColor, width: 2 } },
    axisLabel: { show: false },
    splitLine: { show: false },
    minorSplitLine: { show: false }
  };
}

function lineSeries(name, data, color) {
  return {
    name, type: 'line', data, xAxisIndex: 0, yAxisIndex: 0,
    showSymbol: false, symbol: 'none', clip: true,
    lineStyle: { color, width: 2.5, join: 'miter' },
    emphasis: { disabled: true }
  };
}

chart.setOption({
  animation: false,
  backgroundColor: '#fff',
  grid: { left: 12, top: 8, width: 1708, height: 884, containLabel: false },
  xAxis: [...xAxisPair('bottom', true), ...xAxisPair('top', false)],
  yAxis: [yAxisFor('left'), yAxisFor('right')],
  series: [
    lineSeries('AGN', agnSpectrum, '#ff00ff'),
    lineSeries('AGN continuum', agnContinuum, '#ff0000'),
    lineSeries('Star 1', starLines, '#0000ff'),
    lineSeries('Star 3', starGreen, '#00ff00'),
    lineSeries('Star 2', starCyan, '#00ffff')
  ],
  graphic: [
    {
      type: 'text', x: 140, y: 265,
      style: { text: 'stars with lines', font: '48px "Liberation Sans", Arial, sans-serif',
               fill: '#3333cc', verticalAlign: 'middle', align: 'left' }
    },
    {
      type: 'text', x: 1176, y: 642,
      style: { text: 'smooth AGN continuum', font: '48px "Liberation Sans", Arial, sans-serif',
               fill: '#ff0000', verticalAlign: 'middle', align: 'left' }
    }
  ]
});
</script>
</body>
</html>
